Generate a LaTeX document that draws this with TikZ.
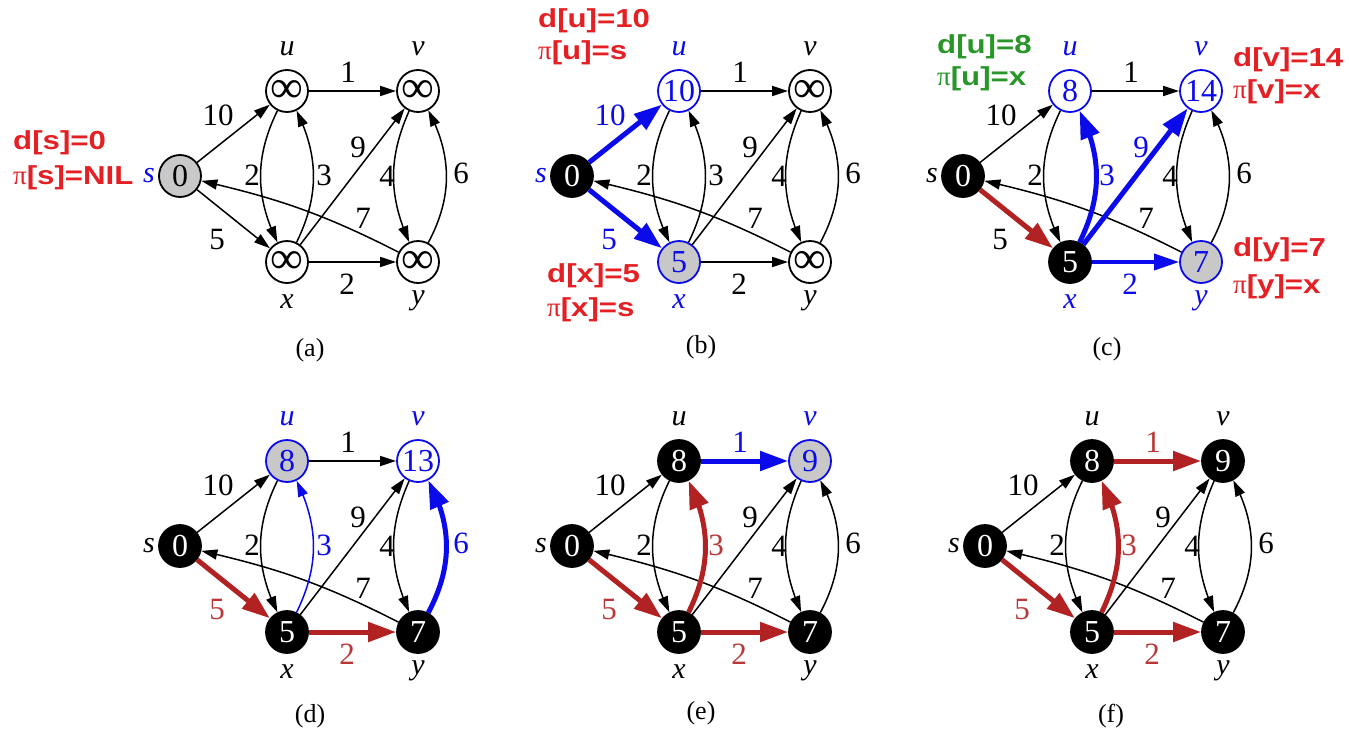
\documentclass[tikz,border=0pt]{standalone}
\usepackage{fontspec}
\setmainfont{Liberation Serif}
\newfontfamily\annotfont[FakeStretch=1.2]{Liberation Sans}
\newfontfamily\pifont{Liberation Serif}
\usetikzlibrary{arrows.meta,bending}

\definecolor{myblue}{RGB}{10,10,235}
\definecolor{edgered}{RGB}{178,34,34}
\definecolor{lblred}{RGB}{185,55,55}
\definecolor{annred}{RGB}{228,32,36}
\definecolor{anngreen}{RGB}{40,150,40}
\definecolor{nodegray}{RGB}{200,200,200}

\newcommand\Infy{{\fontsize{46}{46}\selectfont ∞}}
\newcommand\PIsym{{\pifont\mdseries\fontsize{27}{27}\selectfont π}}

\tikzset{
 nd/.style={circle, minimum size=42pt, inner sep=0pt, line width=1.8pt, draw=black, fill=white, font=\fontsize{32}{32}\selectfont},
 Ngray/.style={fill=nodegray},
 Nblack/.style={fill=black,text=white},
 Nbluew/.style={draw=myblue,text=myblue},
 Nblueg/.style={draw=myblue,fill=nodegray,text=myblue},
 nm/.style={font=\fontsize{30}{30}\selectfont\itshape, inner sep=0pt, text=black},
 el/.style={font=\fontsize{31}{31}\selectfont, inner sep=0pt, text=black},
 captxt/.style={font=\fontsize{26}{26}\selectfont, inner sep=0pt},
 eplain/.style={line width=1.5pt, draw=black, -{Triangle[length=16pt,width=10pt]}},
 ethickblue/.style={line width=5pt, draw=myblue, -{Triangle[length=28pt,width=19pt]}},
 ethickred/.style={line width=5pt, draw=edgered, -{Triangle[length=28pt,width=19pt]}},
 emedblue/.style={line width=3.5pt, draw=myblue, -{Triangle[length=25pt,width=16pt]}},
 ethinblue/.style={line width=1.5pt, draw=myblue, -{Triangle[length=16pt,width=10pt]}},
 ann/.style={font=\annotfont\bfseries\fontsize{26}{26}\selectfont, inner sep=0pt, anchor=west},
 Ns/.style={}, Nu/.style={}, Nv/.style={}, Nx/.style={}, Ny/.style={},
 Ms/.style={}, Mu/.style={}, Mv/.style={}, Mx/.style={}, My/.style={},
 Esu/.style={}, Esx/.style={}, Euv/.style={}, Eux/.style={}, Exu/.style={},
 Exv/.style={}, Exy/.style={}, Evy/.style={}, Eyv/.style={}, Eys/.style={},
 Lsu/.style={}, Lsx/.style={}, Luv/.style={}, Lux/.style={}, Lxu/.style={},
 Lxv/.style={}, Lxy/.style={}, Lvy/.style={}, Lyv/.style={}, Lys/.style={},
}

\newcommand\drawgraph[1]{%
 \node[nd,Ns] (#1s) at (0,0) {\Vs};
 \node[nd,Nu] (#1u) at (107,-85) {\Vu};
 \node[nd,Nv] (#1v) at (238,-85) {\Vv};
 \node[nd,Nx] (#1x) at (107,86) {\Vx};
 \node[nd,Ny] (#1y) at (238,86) {\Vy};
 \node[nm,Ms] (#1ns) at (-31,0) {s};
 \node[nm,Mu] (#1nu) at (107,-127) {u};
 \node[nm,Mv] (#1nv) at (238,-127) {v};
 \node[nm,Mx] (#1nx) at (107,126) {x};
 \node[nm,My] (#1ny) at (238,125) {y};
 \draw[eplain,Eys] (#1y) to[bend right=7] (#1s);
 \draw[eplain,Esu] (#1s) -- (#1u);
 \draw[eplain,Esx] (#1s) -- (#1x);
 \draw[eplain,Euv] (#1u) -- (#1v);
 \draw[eplain,Eux] (#1u) to[bend right=26] (#1x);
 \draw[eplain,Exu] (#1x) to[bend right=26] (#1u);
 \draw[eplain,Exv] (#1x) -- (#1v);
 \draw[eplain,Exy] (#1x) -- (#1y);
 \draw[eplain,Evy] (#1v) to[bend right=24] (#1y);
 \draw[eplain,Eyv] (#1y) to[bend right=28] (#1v);
 \node[el,Lsu] (#1lsu) at (38,-61) {10};
 \node[el,Luv] (#1luv) at (168,-104) {1};
 \node[el,Lux] (#1lux) at (72,-1) {2};
 \node[el,Lxu] (#1lxu) at (144,-1) {3};
 \node[el,Lxv] (#1lxv) at (178,-29) {9};
 \node[el,Lvy] (#1lvy) at (207,0) {4};
 \node[el,Lyv] (#1lyv) at (281,-3) {6};
 \node[el,Lys] (#1lys) at (183,42) {7};
 \node[el,Lsx] (#1lsx) at (37,63) {5};
 \node[el,Lxy] (#1lxy) at (167,108) {2};
}

\begin{document}
\begin{tikzpicture}[x=1pt,y=-1pt]
\fill[white] (0,0) rectangle (1349,731);
\useasboundingbox (0,0) rectangle (1349,731);

% (a)
\begin{scope}[shift={(180,176)}, Ns/.style={Ngray}, Ms/.style={text=myblue}]
 \def\Vs{0}\def\Vu{\Infy}\def\Vv{\Infy}\def\Vx{\Infy}\def\Vy{\Infy}
 \drawgraph{a}
\end{scope}

% (b)
\begin{scope}[shift={(572,176)}, Ns/.style={Nblack}, Nu/.style={Nbluew}, Nx/.style={Nblueg},
  Ms/.style={text=myblue}, Mu/.style={text=myblue}, Mx/.style={text=myblue},
  Esu/.style={ethickblue}, Esx/.style={ethickblue},
  Lsu/.style={text=myblue}, Lsx/.style={text=myblue}]
 \def\Vs{0}\def\Vu{10}\def\Vv{\Infy}\def\Vx{5}\def\Vy{\Infy}
 \drawgraph{b}
\end{scope}

% (c)
\begin{scope}[shift={(963,176)}, Ns/.style={Nblack}, Nx/.style={Nblack}, Nu/.style={Nbluew}, Nv/.style={Nbluew}, Ny/.style={Nblueg},
  Mu/.style={text=myblue}, Mv/.style={text=myblue}, Mx/.style={text=myblue}, My/.style={text=myblue},
  Esx/.style={ethickred}, Exu/.style={ethickblue}, Exv/.style={ethickblue}, Exy/.style={emedblue},
  Lxu/.style={text=myblue}, Lxv/.style={text=myblue}, Lxy/.style={text=myblue}]
 \def\Vs{0}\def\Vu{8}\def\Vv{14}\def\Vx{5}\def\Vy{7}
 \drawgraph{c}
\end{scope}

% (d)
\begin{scope}[shift={(180,546)}, Ns/.style={Nblack}, Nx/.style={Nblack}, Ny/.style={Nblack}, Nu/.style={Nblueg}, Nv/.style={Nbluew},
  Mu/.style={text=myblue}, Mv/.style={text=myblue},
  Esx/.style={ethickred}, Exy/.style={ethickred}, Eyv/.style={ethickblue}, Exu/.style={ethinblue},
  Lsx/.style={text=lblred}, Lxy/.style={text=lblred}, Lyv/.style={text=myblue}, Lxu/.style={text=myblue}]
 \def\Vs{0}\def\Vu{8}\def\Vv{13}\def\Vx{5}\def\Vy{7}
 \drawgraph{d}
\end{scope}

% (e)
\begin{scope}[shift={(572,546)}, Ns/.style={Nblack}, Nu/.style={Nblack}, Nx/.style={Nblack}, Ny/.style={Nblack}, Nv/.style={Nblueg},
  Mv/.style={text=myblue},
  Esx/.style={ethickred}, Exu/.style={ethickred}, Exy/.style={ethickred}, Euv/.style={ethickblue},
  Lsx/.style={text=lblred}, Lxu/.style={text=lblred}, Lxy/.style={text=lblred}, Luv/.style={text=myblue}]
 \def\Vs{0}\def\Vu{8}\def\Vv{9}\def\Vx{5}\def\Vy{7}
 \drawgraph{e}
\end{scope}

% (f)
\begin{scope}[shift={(985,546)}, Ns/.style={Nblack}, Nu/.style={Nblack}, Nv/.style={Nblack}, Nx/.style={Nblack}, Ny/.style={Nblack},
  Esx/.style={ethickred}, Exu/.style={ethickred}, Exy/.style={ethickred}, Euv/.style={ethickred},
  Lsx/.style={text=lblred}, Lxu/.style={text=lblred}, Lxy/.style={text=lblred}, Luv/.style={text=lblred}]
 \def\Vs{0}\def\Vu{8}\def\Vv{9}\def\Vx{5}\def\Vy{7}
 \drawgraph{f}
\end{scope}

% captions
\node[captxt] (capa) at (310,350) {(a)};
\node[captxt] (capb) at (701,347) {(b)};
\node[captxt] (capc) at (1107,349) {(c)};
\node[captxt] (capd) at (310,716) {(d)};
\node[captxt] (cape) at (701,713) {(e)};
\node[captxt] (capf) at (1111,716) {(f)};

% annotations
\node[ann,text=annred] (ann-a1) at (13,143) {d[s]=0};
\node[ann,text=annred] (ann-a2) at (13,178) {\PIsym[s]=NIL};
\node[ann,text=annred] (ann-b1) at (538,21) {d[u]=10};
\node[ann,text=annred] (ann-b2) at (538,53) {\PIsym[u]=s};
\node[ann,text=annred] (ann-b3) at (547,276) {d[x]=5};
\node[ann,text=annred] (ann-b4) at (547,310) {\PIsym[x]=s};
\node[ann,text=anngreen] (ann-c1) at (937,47) {d[u]=8};
\node[ann,text=anngreen] (ann-c2) at (937,79) {\PIsym[u]=x};
\node[ann,text=annred] (ann-c3) at (1233,60) {d[v]=14};
\node[ann,text=annred] (ann-c4) at (1233,92) {\PIsym[v]=x};
\node[ann,text=annred] (ann-c5) at (1233,250) {d[y]=7};
\node[ann,text=annred] (ann-c6) at (1233,287) {\PIsym[y]=x};
\end{tikzpicture}
\end{document}
